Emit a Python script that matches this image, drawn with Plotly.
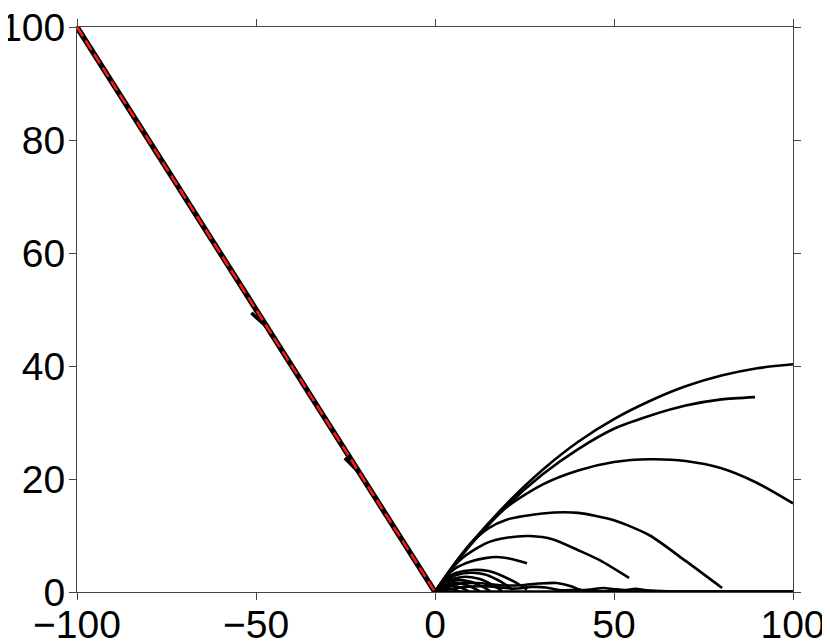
import plotly.graph_objects as go

# Main straight path (black) with red dashed reference
line_x = [-100, 0]
line_y = [100, 0]
ref_x = [-100, 0]
ref_y = [100, 0]

# short kinks on the straight path
kink1_x = [-51.3, -46.8]
kink1_y = [49.4, 46.8]
kink2_x = [-25.2, -21.0]
kink2_y = [23.7, 21.0]

# trajectories to the right of the origin
traj_A_x = [0, 5, 10, 20, 30, 40, 50, 60, 70, 80, 90, 100]
traj_A_y = [0, 4.6, 8.6, 15.6, 21.6, 26.6, 30.6, 33.8, 36.4, 38.3, 39.6, 40.3]
traj_B_x = [0, 5, 10, 20, 30, 40, 50, 60, 70, 80, 89.4]
traj_B_y = [0, 4.5, 8.4, 15.2, 20.8, 25.3, 28.9, 31.2, 33.0, 34.1, 34.5]
traj_C_x = [0, 5, 10, 20, 30, 40, 50, 60, 70, 80, 90, 100]
traj_C_y = [0, 4.4, 8.6, 15.0, 19.0, 21.5, 23.0, 23.5, 23.2, 21.9, 19.3, 15.7]
traj_D_x = [0, 5, 10, 15, 20, 30, 40, 50, 60, 70, 80.2]
traj_D_y = [0, 4.6, 8.6, 11.3, 12.8, 13.9, 14.0, 12.7, 10.0, 5.5, 0.7]
traj_E_x = [0, 4, 8, 14.5, 20, 26.5, 33, 40, 46.1, 54.2]
traj_E_y = [0, 3.6, 6.2, 8.7, 9.6, 9.9, 9.3, 7.4, 5.6, 2.5]
traj_F_x = [0, 3, 6, 10, 14, 17.3, 21, 25.7]
traj_F_y = [0, 2.7, 4.3, 5.4, 6.0, 6.2, 5.9, 5.1]
traj_G1_x = [0, 3, 6, 10.6, 15, 19, 22.5, 25.7]
traj_G1_y = [0, 2.4, 3.4, 3.9, 3.7, 2.8, 1.7, 0.4]
traj_G2_x = [0, 3, 6, 10, 14, 17, 19.5, 21.8]
traj_G2_y = [0, 2.1, 3.0, 3.4, 3.1, 2.3, 1.4, 0.3]
traj_G3_x = [0, 2.5, 5.5, 8.5, 12, 14.5, 16.8, 18.7]
traj_G3_y = [0, 1.7, 2.4, 2.7, 2.4, 1.8, 1.0, 0.2]
traj_G4_x = [0, 2, 4.5, 7, 10, 12, 14, 15.5]
traj_G4_y = [0, 1.3, 1.9, 2.1, 1.8, 1.3, 0.7, 0.1]
traj_G5_x = [0, 2, 4, 6, 8.5, 10.5, 12.5]
traj_G5_y = [0, 1.0, 1.4, 1.6, 1.3, 0.8, 0.1]
traj_G6_x = [0, 2, 5, 7.5, 9.5]
traj_G6_y = [0, 0.8, 1.1, 0.7, 0.1]
traj_G7_x = [0, 1.5, 4, 7]
traj_G7_y = [0, 0.4, 0.6, 0.05]
traj_W1_x = [0, 6, 12, 18, 24, 29, 34, 38, 41, 44, 47, 50, 53, 56, 59, 65, 100]
traj_W1_y = [0, 1.4, 1.6, 1.2, 1.2, 1.5, 1.6, 1.0, 0.3, 0.5, 0.7, 0.5, 0.35, 0.55, 0.3, 0.12, 0.08]
traj_W2_x = [0, 8, 15, 22, 27, 31, 35, 40, 45, 100]
traj_W2_y = [0, 0.9, 1.0, 0.6, 0.9, 0.8, 0.3, 0.4, 0.15, 0.05]
ground_x = [0, 100]
ground_y = [0, 0]

x_ticks = [-100, -50, 0, 50, 100]
y_ticks = [0, 20, 40, 60, 80, 100]

fig = go.Figure()

curves = [
    (traj_A_x, traj_A_y), (traj_B_x, traj_B_y), (traj_C_x, traj_C_y),
    (traj_D_x, traj_D_y), (traj_E_x, traj_E_y), (traj_F_x, traj_F_y),
    (traj_G1_x, traj_G1_y), (traj_G2_x, traj_G2_y), (traj_G3_x, traj_G3_y),
    (traj_G4_x, traj_G4_y), (traj_G5_x, traj_G5_y), (traj_G6_x, traj_G6_y),
    (traj_G7_x, traj_G7_y), (traj_W1_x, traj_W1_y), (traj_W2_x, traj_W2_y),
]
for cx, cy in curves:
    fig.add_trace(go.Scatter(x=cx, y=cy, mode="lines",
                             line=dict(color="black", width=2.6, shape="spline", smoothing=0.7),
                             hoverinfo="skip", showlegend=False))

fig.add_trace(go.Scatter(x=ground_x, y=ground_y, mode="lines",
                         line=dict(color="black", width=3.5), showlegend=False))

fig.add_trace(go.Scatter(x=line_x, y=line_y, mode="lines",
                         line=dict(color="black", width=5.5), showlegend=False))
for kx, ky in [(kink1_x, kink1_y), (kink2_x, kink2_y)]:
    fig.add_trace(go.Scatter(x=kx, y=ky, mode="lines",
                             line=dict(color="black", width=3.5), showlegend=False))
fig.add_trace(go.Scatter(x=ref_x, y=ref_y, mode="lines",
                         line=dict(color="#ff1a1a", width=2.5, dash="11px,5px"), showlegend=False))

axis_common = dict(
    showgrid=False, zeroline=False, showline=True, linecolor="#444", linewidth=1,
    ticks="outside", ticklen=7, tickwidth=1, tickcolor="#444", mirror="ticks",
    automargin=False, ticklabeloverflow="allow",
    tickfont=dict(family="Liberation Sans, Arial, sans-serif", size=39, color="black"),
)
fig.update_xaxes(range=[-100, 100], tickvals=x_ticks, ticklabelstandoff=-9, **axis_common)
fig.update_yaxes(range=[0, 100], tickvals=y_ticks, ticklabelstandoff=-4, **axis_common)

# page body adds an 8px offset, so the figure is 8px smaller and margins shifted
fig.update_layout(
    width=822, height=633,
    margin=dict(l=69, r=37, t=19, b=49),
    paper_bgcolor="white", plot_bgcolor="white",
    showlegend=False,
)

fig.write_html("out.html")
